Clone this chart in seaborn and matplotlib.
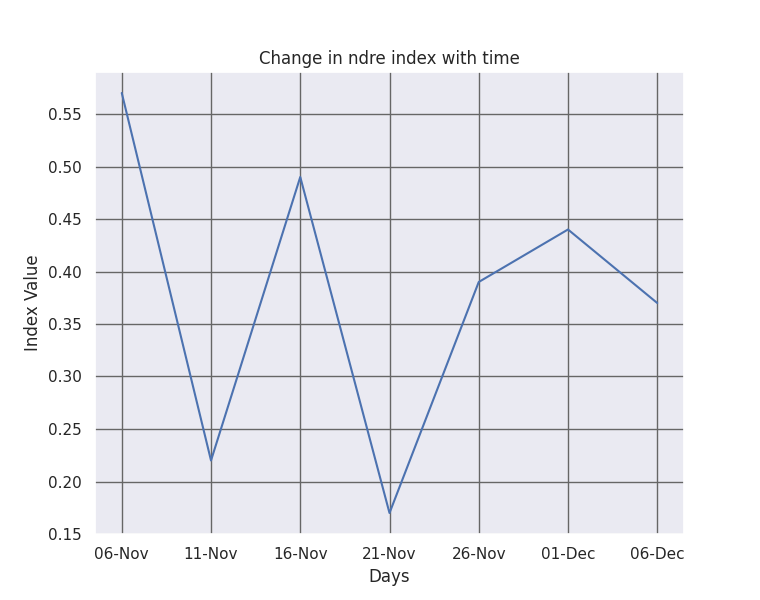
import matplotlib
matplotlib.use("Agg")
import matplotlib.pyplot as plt
import seaborn as sns
import pandas as pd

days = ["06-Nov", "11-Nov", "16-Nov", "21-Nov", "26-Nov", "01-Dec", "06-Dec"]
values = [0.57, 0.22, 0.49, 0.17, 0.39, 0.44, 0.37]

sns.set_theme(style="darkgrid")
df = pd.DataFrame({"Days": days, "Index Value": values})

fig, ax = plt.subplots(figsize=(7.6, 6), dpi=100)
sns.lineplot(data=df, x="Days", y="Index Value", ax=ax, sort=False)
ax.grid(True, color="#666666", linewidth=1)
ax.set_title("Change in ndre index with time")
ax.set_xlabel("Days")
ax.set_ylabel("Index Value")
fig.savefig("out.png", dpi=100)
